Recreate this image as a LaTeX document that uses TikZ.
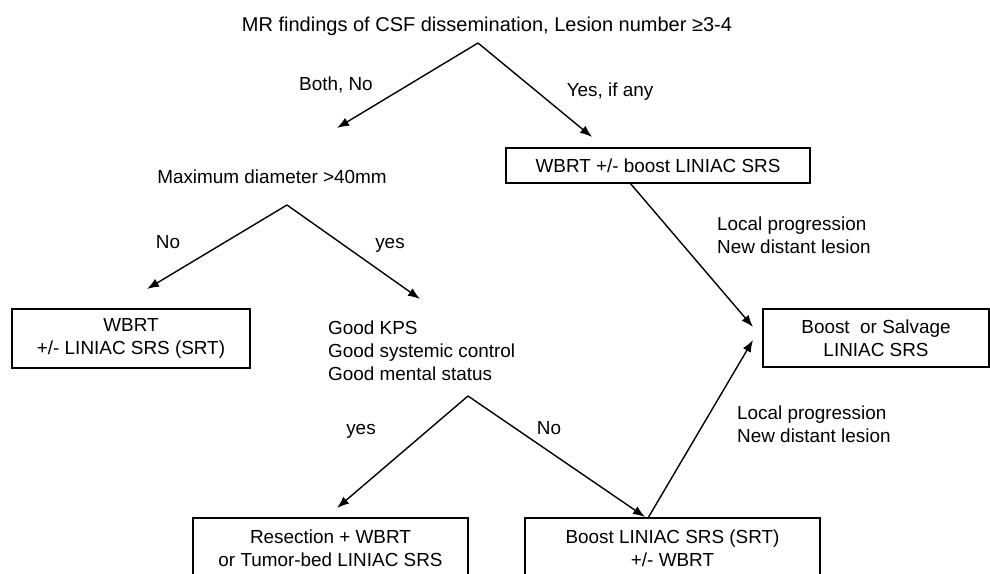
\documentclass[tikz,border=0pt]{standalone}
\usepackage{fontspec}
\setmainfont{Liberation Sans}
\usetikzlibrary{arrows.meta}
\begin{document}
\begin{tikzpicture}[x=1pt,y=-1pt,
  font=\fontsize{18.9}{23}\selectfont,
  lbl/.style={inner sep=0pt, anchor=base},
  boxnode/.style={draw, line width=1.4pt, align=center, inner sep=0pt},
  conn/.style={line width=1.4pt, -{Latex[length=12pt,width=9pt]}}]
\useasboundingbox (0,0) rectangle (990,573);
\clip (0,0) rectangle (990,573);

% texts
\node[lbl, font=\fontsize{20}{24}\selectfont] (title) at (487,31) {MR findings of CSF dissemination, Lesion number ≥3-4};
\node[lbl] (bothno) at (336,90) {Both, No};
\node[lbl] (yesif) at (610,96) {Yes, if any};
\node[lbl] (maxd) at (272,183) {Maximum diameter >40mm};
\node[lbl] (no1) at (168,248) {No};
\node[lbl] (yes1) at (390,248) {yes};
\node[inner sep=0pt, anchor=west, align=left] (kps) at (328,351) {Good KPS\\Good systemic control\\Good mental status};
\node[lbl] (yes2) at (361,434) {yes};
\node[lbl] (no2) at (549,434) {No};
\node[inner sep=0pt, anchor=west, align=left] (lp1) at (717,235) {Local progression\\New distant lesion};
\node[inner sep=0pt, anchor=west, align=left] (lp2) at (737,424) {Local progression\\New distant lesion};

% boxes
\node[boxnode, minimum width=304pt, minimum height=35pt] (wbrtb) at (658,165.5) {WBRT +/- boost LINIAC SRS};
\node[boxnode, minimum width=238pt, minimum height=59pt] (wbrt) at (131,338.5) {WBRT\\+/- LINIAC SRS (SRT)};
\node[boxnode, minimum width=226pt, minimum height=58pt] (salv) at (876,338) {Boost\ \ or Salvage\\LINIAC SRS};
\node[boxnode, minimum width=275pt, minimum height=60pt] (resect) at (330.5,548) {Resection + WBRT\\or Tumor-bed LINIAC SRS};
\node[boxnode, minimum width=295pt, minimum height=60pt] (boost) at (672.5,548) {Boost LINIAC SRS (SRT)\\+/- WBRT};

% branch points and tips
\coordinate (a1) at (478,43);
\coordinate (t1l) at (337,128);
\coordinate (t1r) at (592,137);
\coordinate (a2) at (287,205);
\coordinate (t2l) at (147,289);
\coordinate (t2r) at (420,299);
\coordinate (a3) at (468,396);
\coordinate (t3l) at (337,508);
\coordinate (t3r) at (645,517);
\coordinate (s1) at (630,183);
\coordinate (s1t) at (753,327);
\coordinate (s2) at (648,518);
\coordinate (s2t) at (753,340);

\draw[conn] (a1) -- (t1l);
\draw[conn] (a1) -- (t1r);
\draw[conn] (a2) -- (t2l);
\draw[conn] (a2) -- (t2r);
\draw[conn] (a3) -- (t3l);
\draw[conn] (a3) -- (t3r);
\draw[conn] (s1) -- (s1t);
\draw[conn] (s2) -- (s2t);
\end{tikzpicture}
\end{document}
